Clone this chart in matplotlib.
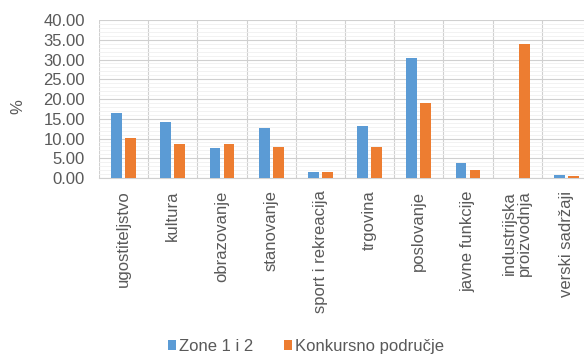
import numpy as np
import matplotlib.pyplot as plt
from matplotlib.ticker import MultipleLocator

plt.rcParams["font.family"] = ["Liberation Sans", "DejaVu Sans"]

categories = ["ugostiteljstvo", "kultura", "obrazovanje", "stanovanje",
              "sport i rekreacija", "trgovina", "poslovanje", "javne funkcije",
              "industrijska\nproizvodnja", "verski sadržaji"]
zone = [16.4, 14.1, 7.7, 12.7, 1.45, 13.2, 30.5, 3.7, 0.0, 0.75]
konkursno = [10.2, 8.6, 8.6, 7.9, 1.45, 7.9, 18.9, 2.1, 34.0, 0.5]

blue = "#5B9BD5"
orange = "#ED7D31"
grey = "#595959"

fig = plt.figure(figsize=(5.84, 3.54), dpi=100)
ax = fig.add_axes([0.1695, 0.497, 1.012 - 0.1695, 0.4465])

x = np.arange(len(categories))
w = 0.217
ax.bar(x - 0.142, zone, w, color=blue, label="Zone 1 i 2", zorder=3)
ax.bar(x + 0.142, konkursno, w, color=orange, label="Konkursno područje", zorder=3)

ax.set_xlim(-0.5, len(categories) - 0.5)
ax.set_ylim(0, 40)
ax.yaxis.set_major_locator(MultipleLocator(5))
ax.yaxis.set_minor_locator(MultipleLocator(1))
ax.set_yticklabels([f"{v:.2f}" for v in ax.get_yticks()])
ax.set_xticks(x)
ax.set_xticklabels(categories, rotation=90, va="top", ha="center", linespacing=1.0)
ax.set_xticks(np.arange(len(categories) + 1) - 0.5, minor=True)

ax.grid(axis="y", which="major", color="#d0d0d0", lw=0.8, zorder=0)
ax.grid(axis="y", which="minor", color="#f0f0f0", lw=0.6, zorder=0)
ax.grid(axis="x", which="minor", color="#d0d0d0", lw=0.8, zorder=0)

ax.tick_params(axis="both", which="both", length=0, labelsize=12, labelcolor=grey)
ax.tick_params(axis="y", pad=10)
ax.tick_params(axis="x", pad=9)
for s in ["top", "right", "left"]:
    ax.spines[s].set_visible(False)
ax.spines["bottom"].set_color("#d0d0d0")

fig.text(0.03, 0.70, "%", rotation=90, fontsize=12, color=grey, va="center", ha="center")

fig.legend(loc="center", bbox_to_anchor=(0.524, 0.022), ncol=2, frameon=False,
           fontsize=12, labelcolor=grey, handlelength=0.5, handleheight=0.5,
           handletextpad=0.2, columnspacing=1.8)

fig.savefig("out.png", dpi=100)
